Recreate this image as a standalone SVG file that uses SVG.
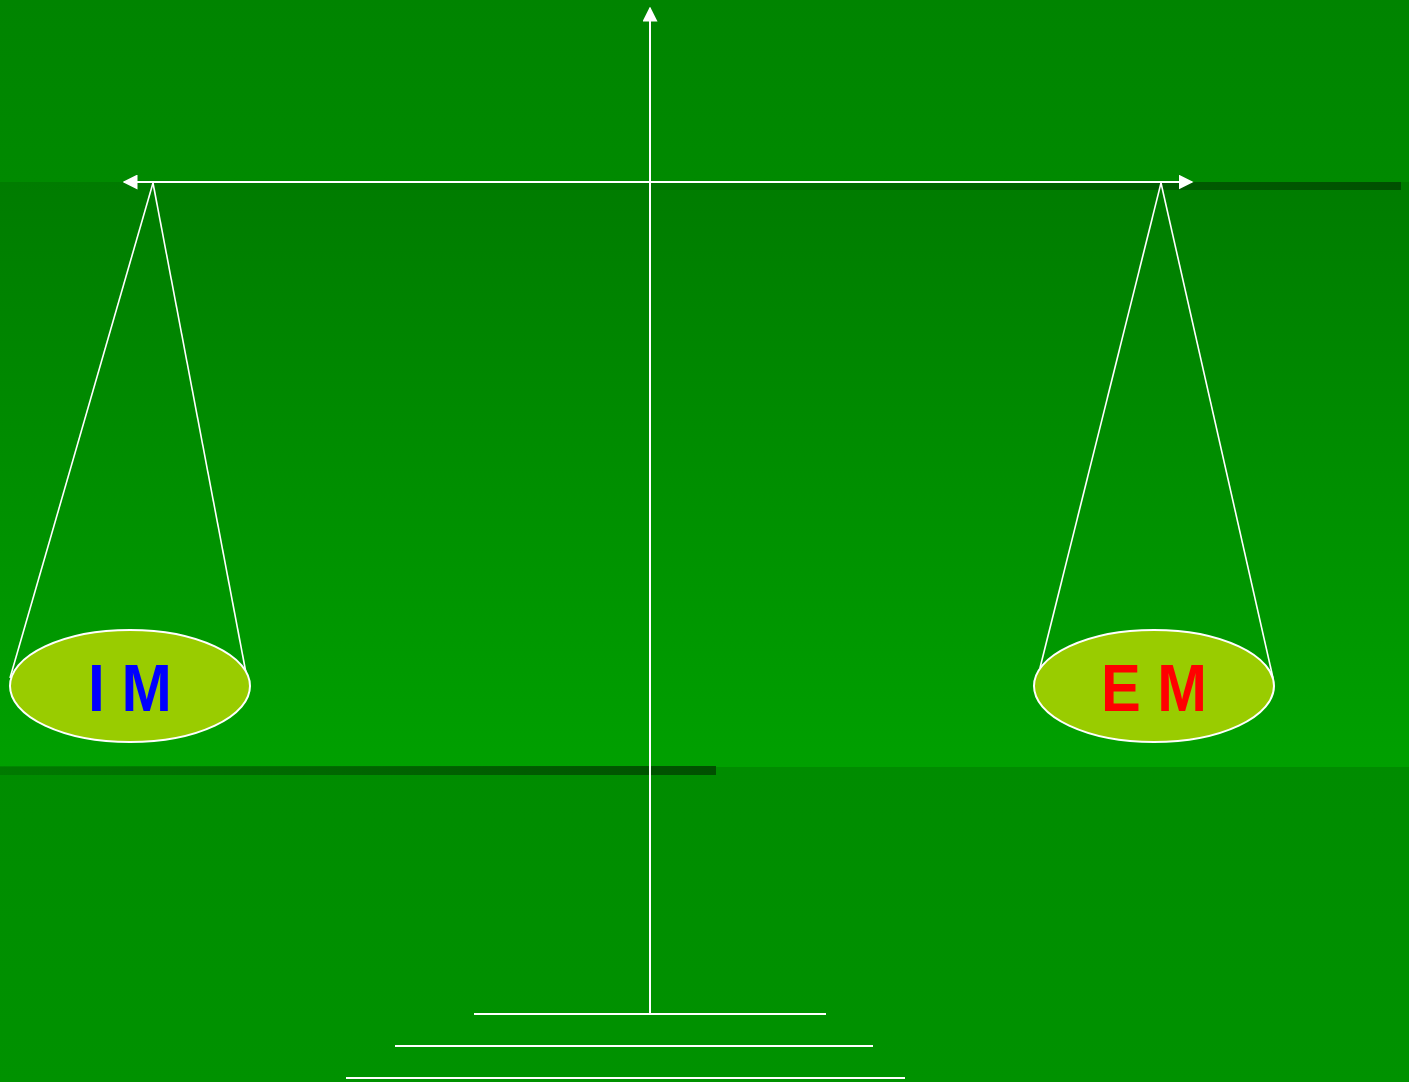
<svg xmlns="http://www.w3.org/2000/svg" width="1409" height="1082" viewBox="0 0 1409 1082">
  <defs>
    <linearGradient id="bgTop" x1="0" y1="0" x2="0" y2="1">
      <stop offset="0" stop-color="#008400"/>
      <stop offset="1" stop-color="#008a00"/>
    </linearGradient>
    <linearGradient id="band" x1="0" y1="0" x2="0" y2="1">
      <stop offset="0" stop-color="#007c00"/>
      <stop offset="1" stop-color="#00a000"/>
    </linearGradient>
    <linearGradient id="bgBottom" x1="0" y1="0" x2="0" y2="1">
      <stop offset="0" stop-color="#008c00"/>
      <stop offset="1" stop-color="#009200"/>
    </linearGradient>
    <linearGradient id="shadowTop" x1="0" y1="0" x2="1" y2="0">
      <stop offset="0" stop-color="#005000" stop-opacity="0"/>
      <stop offset="0.45" stop-color="#005000" stop-opacity="0.15"/>
      <stop offset="1" stop-color="#005000" stop-opacity="1"/>
    </linearGradient>
    <linearGradient id="shadowBottom" x1="0" y1="0" x2="1" y2="0">
      <stop offset="0" stop-color="#005000" stop-opacity="0.3"/>
      <stop offset="1" stop-color="#005000" stop-opacity="1"/>
    </linearGradient>
    <marker id="arrow" viewBox="0 0 10 10" refX="9" refY="5" markerWidth="7.5" markerHeight="7.5" markerUnits="strokeWidth" orient="auto-start-reverse">
      <path d="M0,0 L10,5 L0,10 z" fill="#ffffff"/>
    </marker>
  </defs>
  <style>
    .beam { stroke: #ffffff; stroke-width: 2; fill: none; }
    .string { stroke: #ffffff; stroke-width: 1.6; fill: none; }
    .pan { fill: #99cc00; stroke: #ffffff; stroke-width: 2; }
    .label { font-family: "Liberation Sans", Arial, sans-serif; font-weight: bold; font-size: 66px; text-anchor: middle; }
  </style>

  <!-- background -->
  <rect x="0" y="0" width="1409" height="182" fill="url(#bgTop)"/>
  <rect x="0" y="182" width="1409" height="585" fill="url(#band)"/>
  <rect x="0" y="767" width="1409" height="315" fill="url(#bgBottom)"/>
  <rect x="0" y="182" width="1401" height="8" fill="url(#shadowTop)"/>
  <rect x="0" y="766" width="716" height="9" fill="url(#shadowBottom)"/>

  <g id="connectors">
    <line class="beam" x1="650" y1="1014" x2="650" y2="8" marker-end="url(#arrow)"/>
    <line class="beam" x1="124" y1="182" x2="1192" y2="182" marker-start="url(#arrow)" marker-end="url(#arrow)"/>
    <line class="string" x1="153" y1="183" x2="10" y2="678"/>
    <line class="string" x1="153" y1="183" x2="246" y2="673"/>
    <line class="string" x1="1161" y1="183" x2="1040" y2="668"/>
    <line class="string" x1="1161" y1="183" x2="1273" y2="678"/>
  </g>

  <g id="base">
    <line class="beam" x1="474" y1="1014" x2="826" y2="1014"/>
    <line class="beam" x1="395" y1="1046" x2="873" y2="1046"/>
    <line class="beam" x1="346" y1="1078" x2="905" y2="1078"/>
  </g>

  <g id="pan-im">
    <ellipse class="pan" cx="130" cy="686" rx="120" ry="56"/>
    <text class="label" x="130" y="711" fill="#0000ff" textLength="84" lengthAdjust="spacingAndGlyphs">I M</text>
  </g>

  <g id="pan-em">
    <ellipse class="pan" cx="1154" cy="686" rx="120" ry="56"/>
    <text class="label" x="1154" y="711" fill="#ff0000" textLength="106" lengthAdjust="spacingAndGlyphs">E M</text>
  </g>
</svg>
